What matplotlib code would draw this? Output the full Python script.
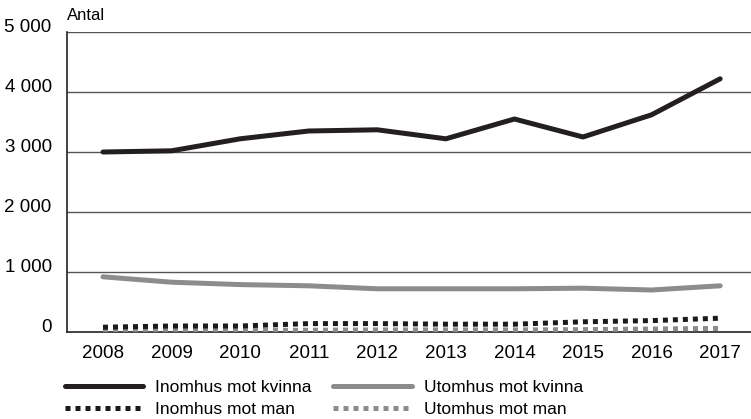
import matplotlib.pyplot as plt
import matplotlib.transforms as mtransforms

plt.rcParams['font.family'] = ['Liberation Sans', 'DejaVu Sans']

years = [2008, 2009, 2010, 2011, 2012, 2013, 2014, 2015, 2016, 2017]
inomhus_kvinna = [3000, 3020, 3220, 3350, 3370, 3220, 3550, 3250, 3620, 4220]
utomhus_kvinna = [920, 830, 790, 770, 720, 720, 720, 730, 700, 770]
inomhus_man = [80, 100, 100, 140, 140, 130, 130, 170, 190, 230]
utomhus_man = [20, 25, 25, 30, 35, 35, 35, 40, 50, 60]
yticks = [0, 1000, 2000, 3000, 4000, 5000]
ytick_labels = ['0', '1 000', '2 000', '3 000', '4 000', '5 000']

fig = plt.figure(figsize=(7.51, 4.19), dpi=100)
ax = fig.add_axes([67 / 751, 87 / 419, 684 / 751, 300 / 419])

for y in yticks[1:]:
    ax.axhline(y, color='#555555', lw=1.0, zorder=1)

l_um, = ax.plot(years, utomhus_man, color='#8c8c8c', lw=3.6, ls=(0, (1, 1)),
                dash_capstyle='butt', label='Utomhus mot man', zorder=3)
l_im, = ax.plot(years, inomhus_man, color='#1a1a1a', lw=3.6, ls=(0, (1, 1)),
                dash_capstyle='butt', label='Inomhus mot man', zorder=4)
l_uk, = ax.plot(years, utomhus_kvinna, color='#8c8c8c', lw=3.6,
                solid_capstyle='round', label='Utomhus mot kvinna', zorder=3)
l_ik, = ax.plot(years, inomhus_kvinna, color='#231f20', lw=3.6,
                solid_capstyle='round', label='Inomhus mot kvinna', zorder=4)

ax.set_xlim(2007.475, 2017.45)
ax.set_ylim(0, 5000)
ax.set_xticks(years)
ax.set_xticklabels([str(y) for y in years], fontsize=13.5)
ax.set_yticks(yticks)
ax.set_yticklabels(ytick_labels, fontsize=13.5)
ax.tick_params(length=0, pad=9)
ax.tick_params(axis='y', pad=11)
offset = mtransforms.ScaledTranslation(0, 7 / 100, fig.dpi_scale_trans)
for lab in ax.get_yticklabels():
    lab.set_transform(lab.get_transform() + offset)

for s in ['top', 'right']:
    ax.spines[s].set_visible(False)
ax.spines['left'].set_color('#222222')
ax.spines['bottom'].set_color('#222222')
ax.spines['left'].set_linewidth(1.2)
ax.spines['bottom'].set_linewidth(1.2)

fig.text(67 / 751, 1 - 15 / 419, 'Antal', fontsize=12, va='center', ha='left')

handles = [l_ik, l_im, l_uk, l_um]
fig.legend(handles, [h.get_label() for h in handles], ncol=2,
           loc='upper left', bbox_to_anchor=(65 / 751, 1 - 380 / 419),
           frameon=False, fontsize=12.5, handlelength=4.5,
           handletextpad=0.7, columnspacing=1.25, labelspacing=0.38,
           borderpad=0, borderaxespad=0)

fig.savefig('out.png', dpi=100)
